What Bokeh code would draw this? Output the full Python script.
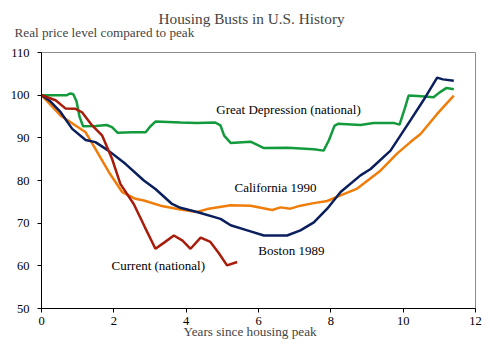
from bokeh.plotting import figure
from bokeh.models import Label, FixedTicker, Range1d, Title
from bokeh.embed import file_html
from bokeh.resources import INLINE

# ---- data ----
current_x = [0, 0.39, 0.66, 0.94, 1.12, 1.4, 1.68, 1.95, 2.18, 2.55, 2.85, 3.15, 3.4, 3.66, 3.9, 4.12, 4.4, 4.67, 4.9, 5.13, 5.41]
current_y = [100, 98.8, 96.9, 96.8, 96.0, 92.9, 90.5, 85.1, 79.2, 74.5, 69.2, 64.0, 65.5, 67.1, 65.9, 64.0, 66.6, 65.6, 63.0, 60.1, 60.9]

boston_x = [0, 0.25, 0.53, 0.85, 1.22, 1.49, 1.85, 2.32, 2.83, 3.15, 3.61, 3.84, 4.3, 4.95, 5.23, 5.69, 6.15, 6.79, 7.16, 7.53, 7.9, 8.27, 8.82, 9.1, 9.65, 10.2, 10.56, 10.94, 11.1, 11.4]
boston_y = [100, 98.5, 96.0, 92.1, 89.5, 89.0, 87.0, 83.9, 80.0, 78.0, 74.5, 73.6, 72.6, 71.0, 69.5, 68.3, 67.1, 67.1, 68.3, 70.2, 73.4, 77.3, 81.2, 82.7, 87.0, 94.1, 98.8, 104.1, 103.7, 103.4]

calif_x = [0, 0.53, 0.94, 1.22, 1.49, 1.86, 2.23, 2.6, 2.83, 3.29, 3.84, 4.3, 4.58, 5.23, 5.78, 6.38, 6.61, 6.88, 7.16, 7.53, 7.9, 8.27, 8.73, 9.37, 9.83, 10.2, 10.48, 10.94, 11.4]
calif_y = [100, 95.2, 92.9, 91.3, 87.4, 82.0, 77.3, 75.7, 75.3, 74.1, 73.2, 72.6, 73.3, 74.2, 74.1, 73.1, 73.7, 73.4, 74.1, 74.7, 75.2, 76.5, 78.1, 82.3, 86.3, 89.0, 90.9, 95.6, 99.9]

depr_x = [0, 0.5, 0.7, 0.8, 0.88, 0.97, 1.05, 1.15, 1.5, 1.8, 1.95, 2.1, 2.5, 2.88, 3.0, 3.15, 3.85, 4.3, 4.8, 4.95, 5.05, 5.23, 5.78, 6.15, 6.8, 7.53, 7.8, 7.95, 8.1, 8.2, 8.82, 9.18, 9.73, 9.9, 10.05, 10.15, 10.4, 10.84, 11.0, 11.2, 11.4]
depr_y = [100, 100, 100, 100.4, 100.2, 98.5, 95.0, 92.7, 92.8, 93.0, 92.5, 91.2, 91.3, 91.3, 92.6, 93.8, 93.6, 93.5, 93.6, 92.9, 90.5, 88.8, 89.1, 87.6, 87.7, 87.3, 87.0, 89.5, 92.8, 93.3, 93.0, 93.5, 93.5, 93.1, 97.0, 99.9, 99.8, 99.5, 100.6, 101.7, 101.4]

x_ticks = [0, 2, 4, 6, 8, 10, 12]
y_ticks = [50, 60, 70, 80, 90, 100, 110]

FONT = "Liberation Serif"

p = figure(width=482, height=355, output_backend="svg", toolbar_location=None,
           x_range=Range1d(0, 12), y_range=Range1d(50, 110),
           min_border_left=41, min_border_right=7, min_border_top=52, min_border_bottom=47)

p.xgrid.visible = False
p.ygrid.visible = False
p.outline_line_color = "#8c8c8c"
p.outline_line_width = 1
p.background_fill_color = "white"
p.border_fill_color = "white"

for ax in (p.xaxis[0], p.yaxis[0]):
    ax.axis_line_color = "black"
    ax.major_tick_line_color = "black"
    ax.minor_tick_line_color = None
    ax.major_tick_in = 0
    ax.major_tick_out = 4
    ax.major_label_text_font = FONT
    ax.major_label_text_font_size = "12.5px"
    ax.major_label_text_color = "black"

p.xaxis[0].ticker = FixedTicker(ticks=x_ticks)
p.yaxis[0].ticker = FixedTicker(ticks=y_ticks)
p.xaxis[0].major_label_standoff = 4
p.yaxis[0].major_label_standoff = 8

p.line(depr_x, depr_y, line_color="#129a3c", line_width=2.5)
p.line(calif_x, calif_y, line_color="#f07d0a", line_width=2.5)
p.line(boston_x, boston_y, line_color="#0b1f5e", line_width=2.5)
p.line(current_x, current_y, line_color="#a81c0b", line_width=2.5)

def lab(x, y, text, size="13px", align="center"):
    p.add_layout(Label(x=x, y=y, text=text, text_font=FONT, text_font_size=size,
                       text_align=align, text_baseline="middle", text_color="black"))

lab(6.83, 96.6, "Great Depression (national)")
lab(6.47, 78.4, "California 1990")
lab(6.91, 63.6, "Boston 1989")
lab(3.23, 60.1, "Current (national)")

# titles and axis caption
p.add_layout(Title(text="Real price level compared to peak", align="left", offset=-27,
                   vertical_align="top",
                   text_font=FONT, text_font_size="13.2px", text_font_style="normal",
                   standoff=21), "above")
p.add_layout(Title(text="Housing Busts in U.S. History", align="left", offset=117,
                   text_font=FONT, text_font_size="15.3px", text_font_style="normal",
                   standoff=-24), "above")
p.add_layout(Title(text="Years since housing peak", align="left", offset=142,
                   text_font=FONT, text_font_size="13.2px", text_font_style="normal",
                   standoff=-12), "below")

open("out.html", "w").write(file_html(p, INLINE))
